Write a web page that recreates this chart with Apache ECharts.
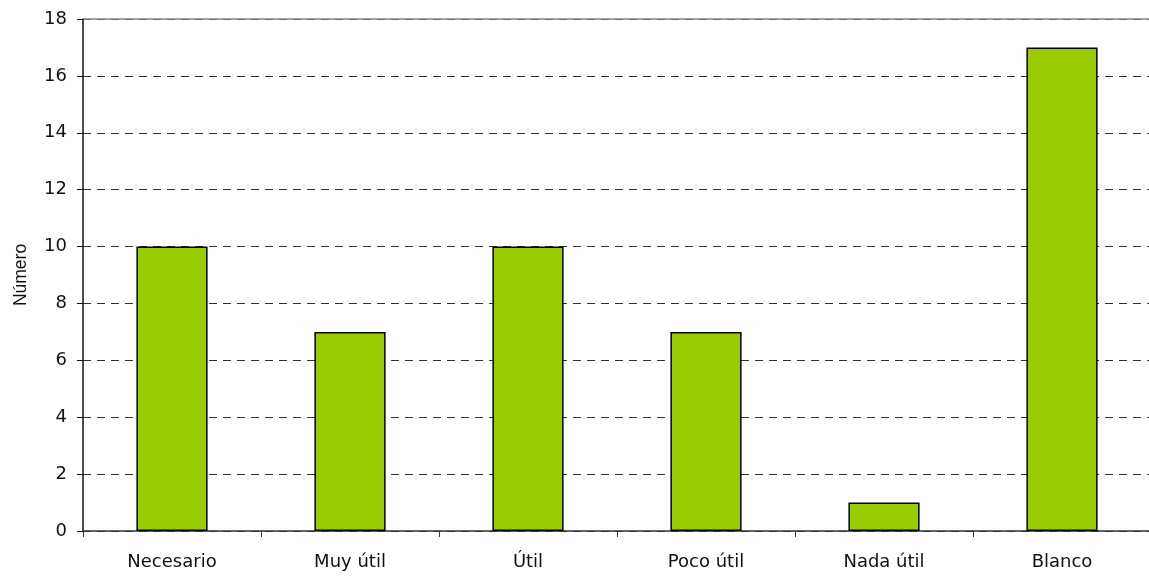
<!DOCTYPE html>
<html>
<head>
<meta charset="utf-8">
<script src="https://cdn.jsdelivr.net/npm/echarts@6/dist/echarts.min.js"></script>
<style>
  html, body { margin: 0; padding: 0; background: #fff; }
  #chart { width: 1149px; height: 576px; }
</style>
</head>
<body>
<div id="chart"></div>
<script>
var categories = ['Necesario', 'Muy útil', 'Útil', 'Poco útil', 'Nada útil', 'Blanco'];
var values = [10, 7, 10, 7, 1, 17];
var yName = 'Número';

var font = 'DejaVu Sans';
var myChart = echarts.init(document.getElementById('chart'));

var options = {
    animation: false,
    backgroundColor: '#fff',
    grid: { left: 83, top: 19, width: 1068, height: 512, containLabel: false, outerBoundsMode: 'none' },
    xAxis: [{
        type: 'category',
        data: categories,
        boundaryGap: true,
        axisLine: { lineStyle: { color: '#333', width: 1.5 } },
        axisTick: { show: true, length: 6, lineStyle: { color: '#333' } },
        axisLabel: { color: '#111', fontFamily: font, fontSize: 18, margin: 22 }
    }, {
        type: 'category',
        position: 'top',
        data: categories,
        axisLine: { lineStyle: { color: '#888', width: 1.5 } },
        axisTick: { show: false },
        axisLabel: { show: false }
    }],
    yAxis: {
        type: 'value',
        min: 0,
        max: 18,
        interval: 2,
        name: yName,
        nameLocation: 'middle',
        nameGap: 53,
        nameRotate: 90,
        nameMoveOverlap: false,
        nameTextStyle: { color: '#111', fontFamily: 'Liberation Sans', fontSize: 17.5 },
        axisLine: { show: true, lineStyle: { color: '#111', width: 1.5 } },
        axisTick: { show: true, length: 6, lineStyle: { color: '#111' } },
        axisLabel: { color: '#111', fontFamily: font, fontSize: 18, margin: 16 },
        splitLine: { show: true, lineStyle: { color: '#333', type: [8, 6], width: 1 } }
    },
    series: [{
        type: 'bar',
        data: values,
        barWidth: '40%',
        itemStyle: { color: '#99cc00', borderColor: '#000', borderWidth: 1.5 }
    }]
};
myChart.setOption(options, true);
</script>
</body>
</html>
